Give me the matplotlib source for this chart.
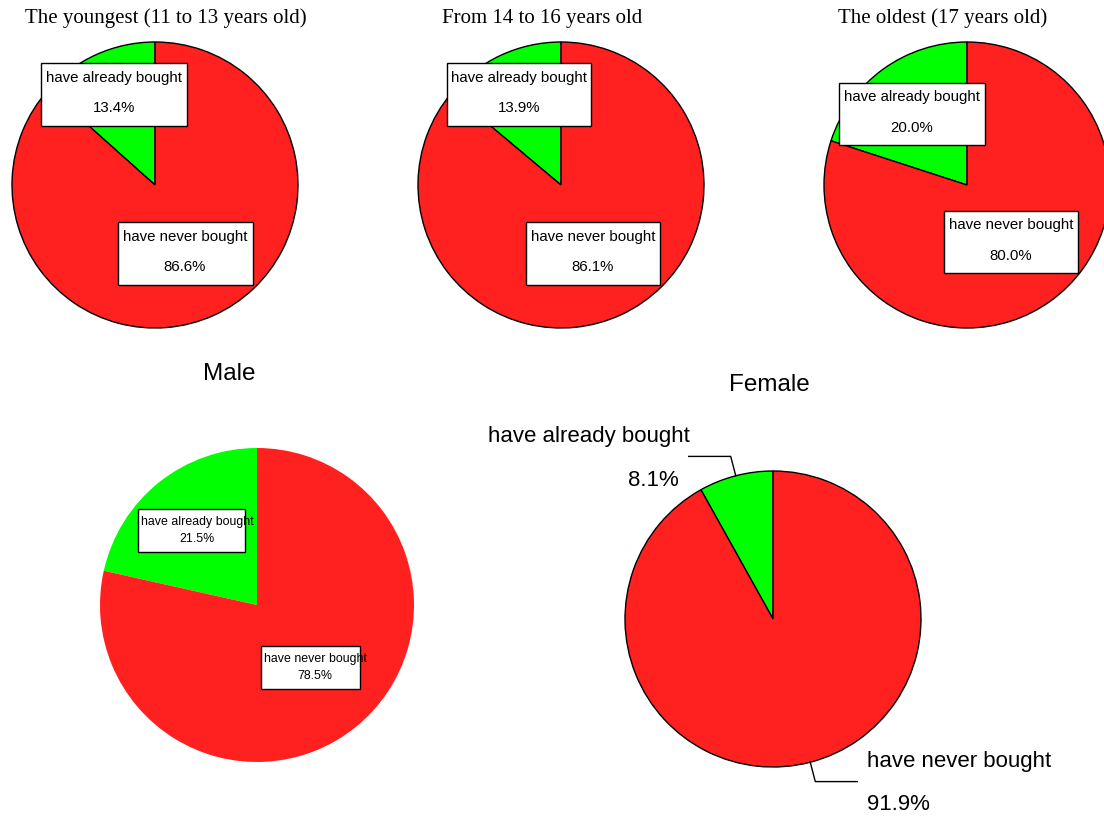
import numpy as np
import matplotlib
matplotlib.use("Agg")
import matplotlib.pyplot as plt
from matplotlib.patches import Rectangle

plt.rcParams['font.family'] = ['Liberation Sans', 'DejaVu Sans']

# share of pupils who have already bought / never bought
labels = ["have already bought", "have never bought"]
age_titles = ["The youngest (11 to 13 years old)", "From 14 to 16 years old", "The oldest (17 years old)"]
age_bought = [13.4, 13.9, 20.0]
age_never = [86.6, 86.1, 80.0]
sex_titles = ["Male", "Female"]
sex_bought = [21.5, 8.1]
sex_never = [78.5, 91.9]

GREEN = "#00ff00"
RED = "#ff2020"

W, H = 1104, 818
fig = plt.figure(figsize=(W / 100, H / 100), dpi=100)
ax = fig.add_axes([0, 0, 1, 1])


def draw_pie(cx, cy, r, bought, never, edge=True):
    # cx, cy in pixels from the top-left corner
    wedges, _ = ax.pie([bought, never], colors=[GREEN, RED], startangle=90,
                       counterclock=True, center=(cx, H - cy), radius=r,
                       wedgeprops=dict(edgecolor="black" if edge else "none",
                                       linewidth=1))
    for w in wedges:
        w.set_clip_on(False)
    return wedges


def box_label(x, y, w, h, text, fs, ls, tx=0, ty=0):
    ax.add_patch(Rectangle((x - w / 2, H - y - h / 2), w, h, facecolor="white",
                           edgecolor="black", linewidth=1, zorder=3))
    ax.text(x + tx, H - y - ty, text, ha="center", va="center", fontsize=fs,
            linespacing=ls, multialignment="center", zorder=4)


# top row: age groups
pie_x = [155, 561, 967]
title_x = [166, 542, 943]
# box centres / sizes in px offsets from the pie centre
box1 = [(-41, -90.5, 146, 63), (-42, -90.5, 144, 63), (-55, -71, 146, 62)]
box2 = [(30, 68.5, 135, 63), (32, 68.5, 134, 63), (44, 57, 134, 62)]
for i in range(3):
    cx, cy, r = pie_x[i], 185, 143
    draw_pie(cx, cy, r, age_bought[i], age_never[i])
    ax.text(title_x[i], H - 18, age_titles[i], ha="center", va="center",
            fontsize=15, family=["Liberation Serif", "DejaVu Serif"])
    dx, dy, bw, bh = box1[i]
    box_label(cx + dx, cy + dy, bw, bh, f"{labels[0]}\n\n{age_bought[i]:.1f}%",
              10.8, 1.13, ty=-1.5)
    dx, dy, bw, bh = box2[i]
    box_label(cx + dx, cy + dy, bw, bh, f"{labels[1]}\n\n{age_never[i]:.1f}%",
              10.8, 1.13, ty=-1.5)

# bottom left: male
cx, cy, r = 257, 605, 157
draw_pie(cx, cy, r, sex_bought[0], sex_never[0], edge=False)
ax.text(229, H - 374, sex_titles[0], ha="center", va="center", fontsize=17.5)
box_label(191.5, 530.5, 107, 43, f"{labels[0]}\n{sex_bought[0]:.1f}%", 8.9, 1.5, tx=6)
box_label(310.5, 667.5, 99, 43, f"{labels[1]}\n{sex_never[0]:.1f}%", 8.9, 1.5, tx=4.5)

# bottom right: female, labels outside with leader lines
cx, cy, r = 773, 619, 148
wedges = draw_pie(cx, cy, r, sex_bought[1], sex_never[1])
ax.text(769, H - 385, sex_titles[1], ha="center", va="center", fontsize=17.5)
for k, wdg in enumerate(wedges):
    ang = np.deg2rad((wdg.theta1 + wdg.theta2) / 2)
    ux, uy = np.cos(ang), np.sin(ang)
    x0, y0 = cx + r * ux, (H - cy) + r * uy
    x1, y1 = cx + (r + 20) * ux, (H - cy) + (r + 20) * uy
    side = 1 if ux > 0 else -1
    x2 = x1 + side * 42
    ax.plot([x0, x1, x2], [y0, y1, y1], color="black", lw=1, clip_on=False)
    val = sex_bought[1] if k == 0 else sex_never[1]
    if side > 0:
        ax.text(x2 + 10, y1 + 20, labels[k], ha="left", va="center", fontsize=16)
        ax.text(x2 + 10, y1 - 23, f"{val:.1f}%", ha="left", va="center", fontsize=16)
    else:
        ax.text(x2 + 1, y1 + 20, labels[k], ha="right", va="center", fontsize=16)
        ax.text(x2 - 10, y1 - 24, f"{val:.1f}%", ha="right", va="center", fontsize=16)

ax.set_xlim(0, W)
ax.set_ylim(0, H)
ax.set_aspect("equal")
ax.axis("off")

fig.savefig("out.png", dpi=100)
